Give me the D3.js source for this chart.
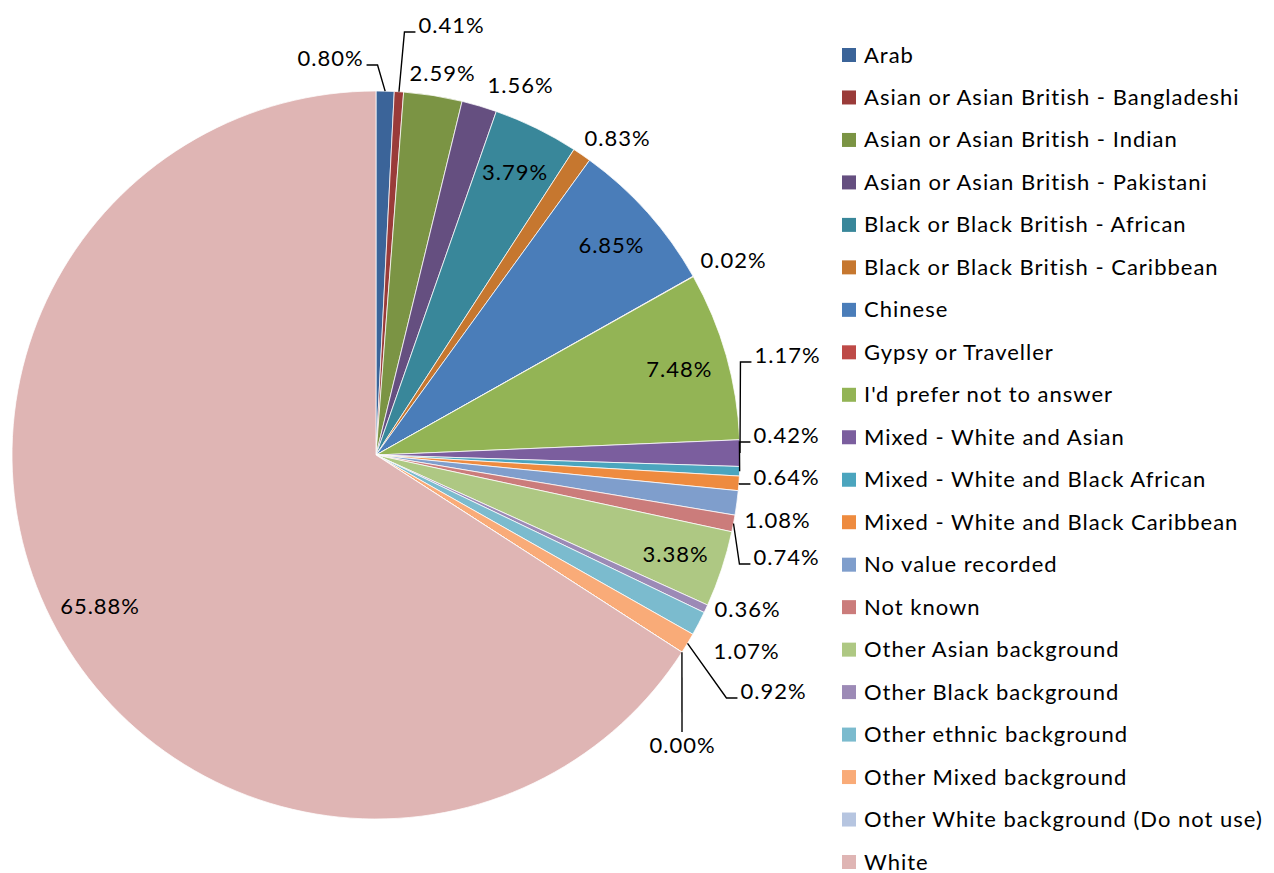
<!DOCTYPE html>
<html>
<head>
<meta charset="utf-8">
<script src="https://cdn.jsdelivr.net/npm/d3@7"></script>
<style>
  body { margin: 0; background: #fff; }
  text { font-family: Lato, "Open Sans", sans-serif; fill: #000; letter-spacing: 1px; }
</style>
</head>
<body>
<div id="chart"></div>
<script>
// data
const categories = [
  "Arab",
  "Asian or Asian British - Bangladeshi",
  "Asian or Asian British - Indian",
  "Asian or Asian British - Pakistani",
  "Black or Black British - African",
  "Black or Black British - Caribbean",
  "Chinese",
  "Gypsy or Traveller",
  "I'd prefer not to answer",
  "Mixed - White and Asian",
  "Mixed - White and Black African",
  "Mixed - White and Black Caribbean",
  "No value recorded",
  "Not known",
  "Other Asian background",
  "Other Black background",
  "Other ethnic background",
  "Other Mixed background",
  "Other White background (Do not use)",
  "White"
]
const shares = [0.80, 0.41, 2.59, 1.56, 3.79, 0.83, 6.85, 0.02, 7.48, 1.17,
                0.42, 0.64, 1.08, 0.74, 3.38, 0.36, 1.07, 0.92, 0.00, 65.88]
const colors = ["#3b6499", "#9a3b39", "#7b9444", "#654f80", "#39879a", "#c6772f",
                "#4a7db9", "#be4a47", "#93b455", "#7b5e9e", "#4ba5be", "#ee8b3f",
                "#7f9ecc", "#cb7c7b", "#aec883", "#9c8ab6", "#7bbbce", "#f9ab78",
                "#b6c5e0", "#dfb5b4"]

// where Excel's "best fit" put each label (centre, relative to the pie centre);
// null = inside the slice. third item: leader line kind
const labelSpots = [
  [-46, -397, "side"], [75, -430, "side"], [66, -382], [144, -370], null,
  [241, -317], null, [357, -195], null, [411, -100, "side"],
  [410, -20, "side"], [410, 22, "side"], [401, 65], [410, 102, "side"], null,
  [371, 154], [370, 196], [397, 236, "side"], [306, 290, "below"], null
]

const width = 1274
const height = 873
const cx = 376, cy = 455, radius = 364
const fs = 22

const svg = d3.select("#chart").append("svg")
  .attr("width", width)
  .attr("height", height)

const data = categories.map((c, i) => ({name: c, value: shares[i], color: colors[i], spot: labelSpots[i]}))

const pie = d3.pie().sort(null).value(d => d.value)
const arcs = pie(data)
const arc = d3.arc().innerRadius(0).outerRadius(radius)
const edge = d3.arc().innerRadius(radius).outerRadius(radius)
const inner = d3.arc().innerRadius(radius * 0.865).outerRadius(radius * 0.865)

const g = svg.append("g").attr("transform", `translate(${cx},${cy})`)

g.selectAll("path.slice").data(arcs).enter().append("path")
  .attr("class", "slice")
  .attr("d", arc)
  .attr("fill", d => d.data.color)
  .attr("stroke", "#fff")
  .attr("stroke-width", 0.75)

const fmt = v => v.toFixed(2) + "%"

// labels
arcs.forEach(d => {
  const spot = d.data.spot
  let x, y
  if (spot) { x = spot[0]; y = spot[1] }
  else { [x, y] = inner.centroid(d) }
  const t = g.append("text")
    .attr("x", x + 0.5)
    .attr("y", y + fs * 0.36)
    .attr("text-anchor", "middle")
    .style("font-size", fs + "px")
    .text(fmt(d.data.value))

  if (spot && spot[2]) {
    const box = t.node().getBBox()
    const [ax, ay] = edge.centroid(d)
    let pts
    if (spot[2] === "below") {
      const ey = box.y + 1
      pts = [[ax, ay], [x, ey]]
    } else {
      const right = x > ax
      const ex = right ? box.x - 3 : box.x + box.width + 3
      const ey = y + 7
      const bx = right ? ex - 11 : ex + 11
      pts = [[ax, ay], [bx, ey], [ex, ey]]
    }
    g.append("path")
      .attr("d", d3.line()(pts))
      .attr("fill", "none")
      .attr("stroke", "#000")
      .attr("stroke-width", 1.4)
  }
})

// legend
const ly = d3.scalePoint().domain(categories).range([55, 862])
const legend = svg.append("g")
const rows = legend.selectAll("g").data(data).enter().append("g")
  .attr("transform", d => `translate(842,${ly(d.name)})`)
rows.append("rect")
  .attr("x", 0).attr("y", -7)
  .attr("width", 14).attr("height", 14)
  .attr("fill", d => d.color)
rows.append("text")
  .attr("x", 22)
  .attr("y", 7.5)
  .style("font-size", fs + "px")
  .text(d => d.name)
</script>
</body>
</html>
